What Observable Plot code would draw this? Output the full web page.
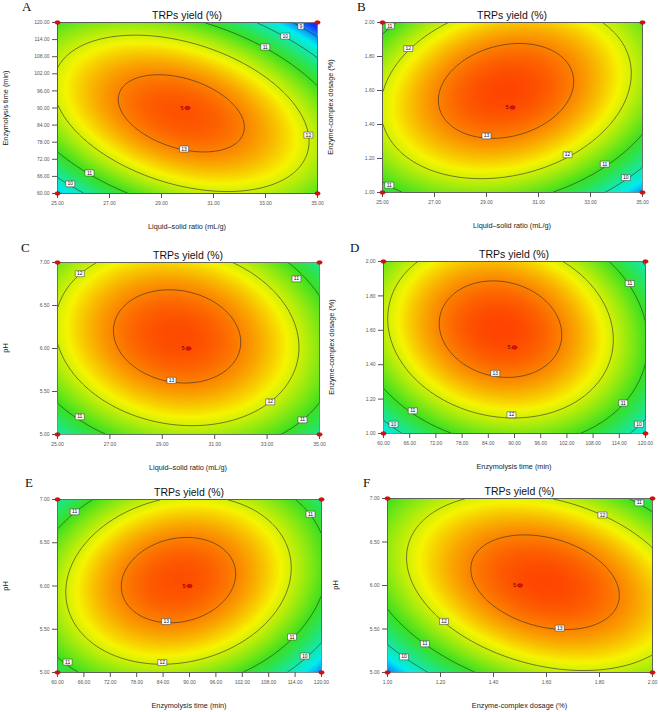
<!DOCTYPE html>
<html><head><meta charset="utf-8">
<script src="https://cdn.jsdelivr.net/npm/d3@7"></script>
<script src="https://cdn.jsdelivr.net/npm/@observablehq/plot@0.6"></script>
<style>
body{margin:0;background:#fff;}
#root{position:relative;width:658px;height:712px;overflow:hidden;font-family:"Liberation Sans",Arial,sans-serif;background:#fff;}
.abs{position:absolute;white-space:nowrap;line-height:1;}
.title{font-size:10.5px;transform:translate(-50%,-50%);color:#111;}
.xlab{font-size:7.3px;transform:translate(-50%,-50%);color:#222;}
.ylab{font-size:7.3px;transform:translate(-50%,-50%) rotate(-90deg);color:#222;}
.letter{font-family:"Liberation Serif","Times New Roman",serif;font-size:13px;color:#111;}
</style></head>
<body><div id="root"></div>
<script>
// ---------- tick labels ----------
const ratioTicks = [25, 27, 29, 31, 33, 35];
const timeTicks = [60, 66, 72, 78, 84, 90, 96, 102, 108, 114, 120];
const dosageTicks = [1.0, 1.2, 1.4, 1.6, 1.8, 2.0];
const phTicks = [5.0, 5.5, 6.0, 6.5, 7.0];

// ---------- centre point (5 replicates) ----------
const centreYield = 13.4;
const centreReplicates = 5;

// ---------- contour levels drawn in each panel ----------
const levelsA = [9, 10, 11, 12, 13];
const levelsB = [10, 11, 12, 13];
const levelsC = [11, 12, 13];
const levelsD = [10, 11, 12, 13];
const levelsE = [10, 11, 12, 13];
const levelsF = [10, 11, 12, 13];

// ---------- points read on the contour lines: [level, x, y] ----------
const readA = [[13,27.09,93.2],[13,32.28,82.7],[13,29.08,100.3],[13,30.6,73.7],[13,29.87,75.6],
  [12,25.0,106.1],[12,25.0,88.0],[12,27.54,115.0],[12,34.7,80.0],[12,31.0,60.7],
  [11,30.36,120],[11,35,95.6],[11,32.99,111.4],
  [10,32.47,120],[10,35,106.7],[10,33.76,115.2],
  [9,34.08,120],[9,35,116.1],[9,34.36,118.7],
  [11,25,76.6],[11,27.67,60],[11,26.23,67.2],
  [10,25,65.05],[10,26.0,60],[10,25.49,63.4]];
const readB = [[13,27.14,1.5],[13,32.33,1.647],[13,29.9,1.863],[13,28.94,1.314],[13,29.0,1.333],
  [12,27.72,2.0],[12,25.99,1.847],[12,25.0,1.598],[12,25.0,1.381],[12,32.12,1.222],[12,34.55,1.706],[12,33.55,2.0],[12,28.94,1.069],
  [11,31.63,1.0],[11,35,1.333],[11,33.55,1.167],
  [10,33.6,1.0],[10,35,1.137],[10,34.36,1.088],
  [11,25.28,1.98],[11,25.55,2.0],[11,25.0,1.92],
  [11,25.26,1.043],[11,25.0,1.088],[11,25.6,1.0]];
const readC = [[13,27.01,6.152],[13,31.93,5.996],[13,28.82,6.58],[13,29.58,5.58],[13,29.35,5.63],
  [12,27.23,7.0],[12,32.9,7.0],[12,34.22,5.94],[12,33.12,5.38],[12,29.96,5.109],[12,25.85,6.87],[12,25.0,6.56],[12,25.0,5.94],
  [11,33.75,7.0],[11,34.12,6.81],[11,35,6.50],
  [11,25.85,5.206],[11,25.0,5.335],[11,26.97,5.0],
  [11,34.35,5.17],[11,33.52,5.0],[11,35,5.315]];
const readD = [[13,72.77,1.541],[13,100.9,1.57],[13,88.67,1.877],[13,88.67,1.327],[13,85.6,1.35],
  [12,68.0,2.0],[12,101.3,2.0],[12,61.0,1.658],[12,112.6,1.54],[12,90.2,1.09],[12,89.3,1.109],
  [11,111.4,2.0],[11,116.2,1.867],[11,120,1.646],
  [11,114.9,1.177],[11,120,1.366],[11,105.5,1.0],
  [10,118.5,1.057],[10,120,1.09],[10,117,1.0],
  [11,66.7,1.133],[11,60,1.249],[11,74.1,1.0],
  [10,62.3,1.054],[10,60,1.084],[10,63.1,1.0]];
const readE = [[13,74.4,6.004],[13,100.85,6.12],[13,88.0,6.55],[13,86.5,5.55],[13,84.7,5.59],
  [12,61.9,5.93],[12,112.95,6.196],[12,89.5,6.98],[12,83.4,5.08],[12,83.8,5.115],
  [11,63.9,6.858],[11,66.8,7.0],[11,60,6.62],
  [11,117.5,6.83],[11,114.5,7.0],[11,120,6.58],
  [11,62.3,5.12],[11,60,5.196],[11,63.4,5.0],
  [11,113.3,5.41],[11,120,5.85],[11,102.4,5.0],
  [10,116.2,5.19],[10,120,5.33],[10,112.2,5.0]];
const readF = [[13,1.3145,6.079],[13,1.870,5.868],[13,1.518,6.547],[13,1.644,5.495],[13,1.65,5.51],
  [12,1.28,7.0],[12,1.68,7.0],[12,1.811,6.81],[12,2.0,6.42],[12,2.0,5.18],[12,1.6,5.065],[12,1.213,5.587],[12,1.072,6.27],[12,1.15,6.7],
  [11,1.95,6.95],[11,1.896,7.0],[11,2.0,6.83],
  [11,1.141,5.33],[11,1.0,5.695],[11,1.33,5.0],
  [10,1.062,5.18],[10,1.0,5.3],[10,1.166,5.0]];

// ---------- contour label boxes: [level, x, y] ----------
const labelsA = [[13,29.87,75.6],[12,34.65,80.5],[11,32.99,111.4],[10,33.76,115.2],[9,34.36,118.7],[11,26.23,67.2],[10,25.49,63.4]];
const labelsB = [[13,29.0,1.333],[12,25.99,1.847],[12,32.12,1.222],[11,33.55,1.167],[10,34.36,1.088],[11,25.28,1.98],[11,25.26,1.043]];
const labelsC = [[12,25.85,6.87],[11,34.12,6.81],[13,29.35,5.63],[12,33.12,5.38],[11,25.85,5.206],[11,34.35,5.17]];
const labelsD = [[11,116.4,1.872],[13,85.6,1.35],[11,66.7,1.132],[12,89.3,1.109],[11,114.9,1.177],[10,62.3,1.054],[10,118.5,1.054]];
const labelsE = [[11,63.9,6.858],[11,117.5,6.83],[13,84.7,5.59],[11,113.3,5.41],[11,62.3,5.12],[12,83.8,5.115],[10,116.2,5.19]];
const labelsF = [[11,1.95,6.95],[12,1.811,6.81],[13,1.65,5.51],[12,1.213,5.587],[11,1.141,5.33],[10,1.062,5.18]];

// ---------- colour ramp ----------
const colorStops = [8.5, 9.5, 11.0, 12.25, 13.6];
const colorRamp = ["#1430ff", "#00ecf0", "#3ae020", "#f6f400", "#ff2800"];

const factors = {
  ratio: {domain: [25, 35], ticks: ratioTicks, title: "Liquid\u2013solid ratio (mL/g)"},
  time: {domain: [60, 120], ticks: timeTicks, title: "Enzymolysis time (min)"},
  dosage: {domain: [1, 2], ticks: dosageTicks, title: "Enzyme-complex dosage (%)"},
  ph: {domain: [5, 7], ticks: phTicks, title: "pH"}
};

const panels = [
  {letter: "A", box: [57, 22, 317, 193], lpos: [22, 0], x: "ratio", y: "time", levels: levelsA, read: readA, labels: labelsA},
  {letter: "B", box: [382, 22, 642, 192], lpos: [357, 0], x: "ratio", y: "dosage", levels: levelsB, read: readB, labels: labelsB},
  {letter: "C", box: [57, 262, 319, 434], lpos: [21, 241], x: "ratio", y: "ph", levels: levelsC, read: readC, labels: labelsC},
  {letter: "D", box: [383, 261, 645, 433], lpos: [350, 241], x: "time", y: "dosage", levels: levelsD, read: readD, labels: labelsD},
  {letter: "E", box: [57, 499, 321, 672], lpos: [25, 476], x: "time", y: "ph", levels: levelsE, read: readE, labels: labelsE},
  {letter: "F", box: [387, 498, 652, 672], lpos: [363, 476], x: "dosage", y: "ph", levels: levelsF, read: readF, labels: labelsF}
];

// least-squares quadratic response surface through the read contour points
function fitSurface(points, xd, yd) {
  const cx = (xd[0] + xd[1]) / 2, sx = (xd[1] - xd[0]) / 2;
  const cy = (yd[0] + yd[1]) / 2, sy = (yd[1] - yd[0]) / 2;
  const basis = (x, y) => { const u = (x - cx) / sx, v = (y - cy) / sy; return [1, u, v, u * u, v * v, u * v]; };
  const n = 6;
  const M = Array.from({length: n}, () => new Array(n + 1).fill(0));
  for (const [z, x, y] of points) {
    const b = basis(x, y);
    for (let i = 0; i < n; i++) { for (let j = 0; j < n; j++) M[i][j] += b[i] * b[j]; M[i][n] += b[i] * z; }
  }
  for (let i = 0; i < n; i++) {
    let p = i;
    for (let k = i + 1; k < n; k++) if (Math.abs(M[k][i]) > Math.abs(M[p][i])) p = k;
    [M[i], M[p]] = [M[p], M[i]];
    for (let k = i + 1; k < n; k++) {
      const f = M[k][i] / M[i][i];
      for (let j = i; j <= n; j++) M[k][j] -= f * M[i][j];
    }
  }
  const c = new Array(n).fill(0);
  for (let i = n - 1; i >= 0; i--) {
    let s = M[i][n];
    for (let j = i + 1; j < n; j++) s -= M[i][j] * c[j];
    c[i] = s / M[i][i];
  }
  return (x, y) => basis(x, y).reduce((s, b, i) => s + b * c[i], 0);
}

const rampScale = d3.scaleLinear().domain(colorStops).range(colorRamp).clamp(true);
const lo = colorStops[0], hi = colorStops[colorStops.length - 1];

const boxSymbol = (w, h) => ({draw(ctx) {
  ctx.moveTo(-w / 2, -h / 2); ctx.lineTo(w / 2, -h / 2); ctx.lineTo(w / 2, h / 2); ctx.lineTo(-w / 2, h / 2); ctx.closePath();
}});
const ellipseSymbol = (rx, ry) => ({draw(ctx) {
  const k = 0.5523;
  ctx.moveTo(rx, 0);
  ctx.bezierCurveTo(rx, ry * k, rx * k, ry, 0, ry);
  ctx.bezierCurveTo(-rx * k, ry, -rx, ry * k, -rx, 0);
  ctx.bezierCurveTo(-rx, -ry * k, -rx * k, -ry, 0, -ry);
  ctx.bezierCurveTo(rx * k, -ry, rx, -ry * k, rx, 0);
  ctx.closePath();
}});

const root = document.getElementById("root");
const mL = 57, mT = 22, mR = 5, mB = 40;

function addDiv(cls, text, left, top) {
  const d = document.createElement("div");
  d.className = "abs " + cls;
  d.textContent = text;
  d.style.left = left + "px";
  d.style.top = top + "px";
  root.appendChild(d);
  return d;
}

for (const p of panels) {
  const fx = factors[p.x], fy = factors[p.y];
  const xd = fx.domain, yd = fy.domain;
  const cx = (xd[0] + xd[1]) / 2, cy = (yd[0] + yd[1]) / 2;
  const f = fitSurface([...p.read, [centreYield, cx, cy]], xd, yd);
  const [l, t, r, b] = p.box;
  const design = [[xd[0], yd[0]], [xd[0], yd[1]], [xd[1], yd[0]], [xd[1], yd[1]], [cx, cy]];
  const wide = p.labels.filter(d => d[0] >= 10), narrow = p.labels.filter(d => d[0] < 10);
  const chart = Plot.plot({
    width: r - l + mL + mR,
    height: b - t + mT + mB,
    marginLeft: mL, marginTop: mT, marginRight: mR, marginBottom: mB,
    style: {fontFamily: "Liberation Sans, Arial, sans-serif", background: "transparent", overflow: "visible"},
    x: {domain: xd},
    y: {domain: yd},
    color: {type: "linear", domain: [lo, hi], interpolate: tt => rampScale(lo + tt * (hi - lo))},
    marks: [
      Plot.raster({fill: f, x1: xd[0], x2: xd[1], y1: yd[0], y2: yd[1], pixelSize: 1}),
      Plot.contour({value: f, x1: xd[0], x2: xd[1], y1: yd[0], y2: yd[1], pixelSize: 1,
        thresholds: p.levels, fill: "none", stroke: "#2b2b2b", strokeWidth: 0.6}),
      Plot.frame({stroke: "#6a6a6a", strokeWidth: 0.7}),
      Plot.axisX(fx.ticks, {tickSize: 5, tickPadding: 3, fontSize: 5, tickFormat: d3.format(".2f"), color: "#555", label: null}),
      Plot.axisY(fy.ticks, {tickSize: 5, tickPadding: 3, fontSize: 5, tickFormat: d3.format(".2f"), color: "#555", label: null}),
      Plot.dot(wide, {x: d => d[1], y: d => d[2], symbol: boxSymbol(9, 6), fill: "white", stroke: "#333", strokeWidth: 0.5}),
      Plot.dot(narrow, {x: d => d[1], y: d => d[2], symbol: boxSymbol(6, 6), fill: "white", stroke: "#333", strokeWidth: 0.5}),
      Plot.text(p.labels, {x: d => d[1], y: d => d[2], text: d => String(d[0]), fontSize: 5, fill: "#111"}),
      Plot.dot(design, {x: d => d[0], y: d => d[1], symbol: ellipseSymbol(2.8, 1.9), fill: "#d21010", stroke: "#a00", strokeWidth: 0.3}),
      Plot.text([[cx, cy]], {x: d => d[0], y: d => d[1], text: () => String(centreReplicates), dx: -5.5, fontSize: 5.5, fill: "#5a0000"})
    ]
  });
  chart.style.position = "absolute";
  chart.style.left = (l - mL) + "px";
  chart.style.top = (t - mT) + "px";
  root.appendChild(chart);

  addDiv("title", "TRPs yield (%)", (l + r) / 2, t - 7.5);
  addDiv("xlab", fx.title, (l + r) / 2, b + 33.5);
  addDiv("ylab", fy.title, l - 51, (t + b) / 2);
  addDiv("letter", p.letter, p.lpos[0], p.lpos[1]);
}
</script>
</body></html>
